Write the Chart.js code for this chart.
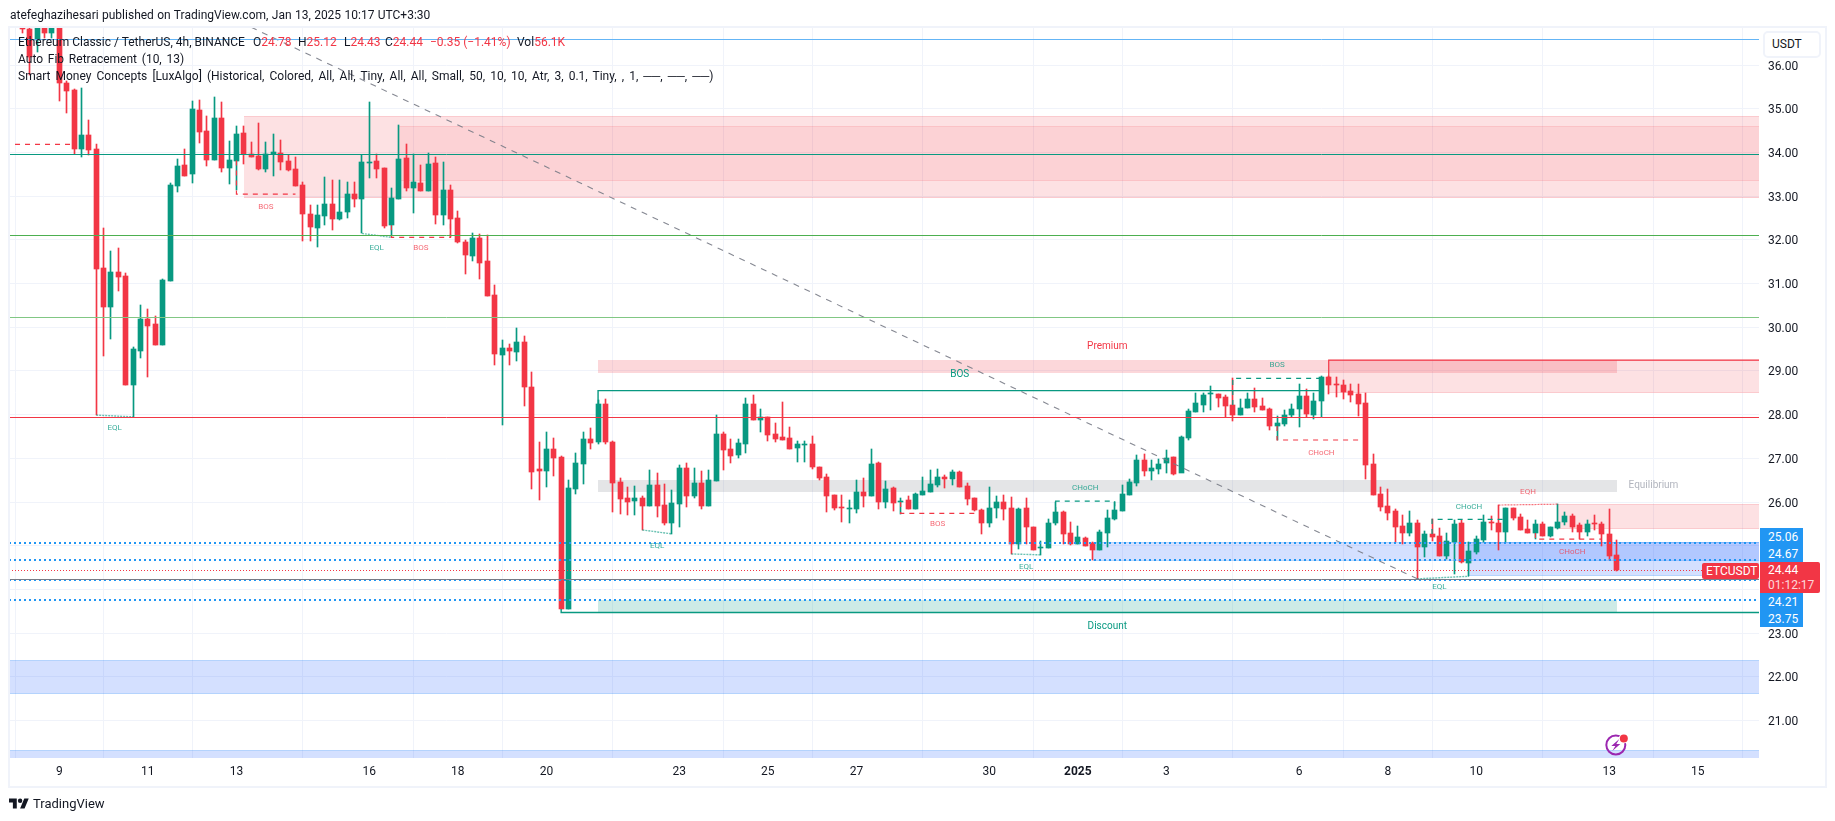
<!DOCTYPE html>
<html><head><meta charset="utf-8">
<script src="https://cdn.jsdelivr.net/npm/chart.js@4/dist/chart.umd.min.js"></script>
<style>
html,body{margin:0;padding:0;background:#fff;width:1835px;height:821px;overflow:hidden}
body{font-family:Roboto,"Noto Sans",sans-serif;color:#131722;position:relative}
canvas{position:absolute;left:0;top:0}
.t{position:absolute;white-space:pre;font-size:12px;line-height:16px}
.r{color:#f23645}
.frame{position:absolute;left:8px;top:26px;width:1815px;height:758px;border:2px solid #f0f3fa;pointer-events:none}
.usdt{position:absolute;left:1763px;top:31px;height:23px;border:2px solid #f0f3fa;border-radius:5px;background:#fff;font-size:12px;line-height:23px;padding-left:7px;width:47px}
.tag{position:absolute;color:#fff;font-size:12px;text-align:left;padding-left:8px;padding-top:1px;box-sizing:border-box}
</style></head><body>
<canvas id="c" width="1835" height="821"></canvas>
<div class="frame"></div>
<div class="t" style="left:10px;top:7px;word-spacing:.4px">atefeghazihesari published on TradingView.com, Jan 13, 2025 10:17 UTC+3:30</div>
<div class="t" style="left:18px;top:34px">Ethereum Classic / TetherUS, 4h, BINANCE</div>
<div class="t" style="left:253px;top:34px">O<span class="r">24.78</span></div>
<div class="t" style="left:298px;top:34px">H<span class="r">25.12</span></div>
<div class="t" style="left:344px;top:34px">L<span class="r">24.43</span></div>
<div class="t" style="left:385px;top:34px">C<span class="r">24.44</span></div>
<div class="t r" style="left:430px;top:34px">−0.35 (−1.41%)</div>
<div class="t" style="left:517px;top:34px">Vol<span class="r">56.1K</span></div>
<div class="t" style="left:18px;top:51px;word-spacing:1.8px">Auto Fib Retracement (10, 13)</div>
<div class="t" style="left:18px;top:68px;word-spacing:2.1px">Smart Money Concepts [LuxAlgo] (Historical, Colored, All, All, Tiny, All, All, Small, 50, 10, 10, Atr, 3, 0.1, Tiny, , 1, ──, ──, ──)</div>
<div class="usdt">USDT</div>
<div class="tag" style="left:1760px;top:528px;width:43px;height:34px;background:#2196f3;line-height:17px">25.06<br>24.67</div>
<div class="tag" style="left:1760px;top:593px;width:43px;height:34px;background:#2196f3;line-height:17px">24.21<br>23.75</div>
<div class="tag" style="left:1760px;top:562px;width:60px;height:31px;background:#f23645;line-height:15px;border-radius:0 2px 2px 0">24.44<br><span style="opacity:.8">01:12:17</span></div>
<div class="tag" style="left:1702px;top:563px;width:57px;height:16px;background:#f23645;line-height:16px;padding-left:4px;padding-top:0;border-radius:2px">ETCUSDT</div>
<svg style="position:absolute;left:9px;top:797px" width="20" height="13" viewBox="0 4 36 18"><path fill="#131722" d="M14 22H7V11H0V4h14v18zM28 22h-8l7.5-18h8L28 22z"/><circle fill="#131722" cx="20" cy="8" r="4"/></svg>
<div class="t" style="left:33px;top:796px;font-size:13px">TradingView</div>
<script>
// ---- x axis
const firstIndex = -5;
const xTickIndex = [0,12,24,42,54,66,84,96,108,126,138,150,168,180,192,210,222];
const xTickLabels = ['9','11','13','16','18','20','23','25','27','30','2025','3','6','8','10','13','15'];
const yTicks = [36,35,34,33,32,31,30,29,28,27,26,25,24,23,22,21];

// ---- candles
const opens = [37.0,36.82,36.59,36.85,36.75,36.95,35.59,35.43,34.08,34.40,34.08,31.36,30.47,31.27,31.17,28.69,29.46,30.19,30.07,29.60,
31.06,33.24,33.72,33.50,34.98,34.5,33.83,34.8,33.65,33.82,34.44,33.98,33.93,33.63,33.97,34.0,33.81,33.63,33.26,32.6,
32.28,32.55,32.82,32.48,32.63,33.05,32.94,33.77,33.8,33.65,32.34,32.94,33.87,33.2,33.3,33.12,33.77,32.57,33.15,32.5,
31.95,31.64,32.04,31.52,30.74,29.36,29.52,29.43,29.66,28.63,26.75,26.72,27.21,27.03,23.55,26.30,26.88,27.44,27.38,28.24,
27.38,26.46,26.09,26.03,26.09,25.91,26.39,25.93,25.51,25.96,26.78,26.14,26.43,25.91,26.48,27.56,27.21,27.08,27.33,28.24,
27.88,27.95,27.56,27.49,27.47,27.24,27.31,27.33,26.80,26.57,26.16,25.89,25.85,25.85,26.23,26.14,26.89,26.00,26.32,26.00,
26.05,25.84,26.16,26.23,26.39,26.57,26.53,26.69,26.37,26.09,25.82,25.52,25.86,26.00,25.86,25.04,25.86,25.43,24.95,24.95,
25.52,25.77,25.29,25.04,25.18,25.06,24.90,25.29,25.61,25.79,26.16,26.43,26.96,26.71,26.75,26.89,27.03,26.66,27.47,28.06,
28.22,28.47,28.47,28.40,28.22,27.99,28.15,28.36,28.20,28.13,27.74,27.79,27.99,28.13,28.43,27.99,28.31,28.86,28.70,28.68,
28.54,28.47,28.27,26.87,26.18,25.91,25.79,25.45,25.29,25.52,24.97,25.27,25.22,24.76,25.09,25.52,24.60,24.85,25.13,25.55,
25.51,25.31,25.87,25.66,25.38,25.29,25.50,25.22,25.40,25.54,25.68,25.47,25.31,25.52,25.50,25.27,24.78];
const highs = [37.2,37.0,37.0,37.0,37.1,37.0,35.65,35.45,35.47,34.75,34.2,32.27,31.75,31.81,31.24,29.56,30.51,30.42,30.26,31.10,
33.3,33.85,34.08,35.18,35.2,34.84,35.27,35.17,34.27,34.62,34.6,34.25,34.67,34.24,34.43,34.29,33.95,33.9,33.33,32.79,
32.79,33.44,33.37,33.37,33.32,33.32,33.95,35.16,33.98,33.65,33.18,34.63,34.2,33.96,33.72,34.0,33.9,33.78,33.27,32.66,
32.0,32.17,32.14,32.11,30.97,29.72,29.62,29.98,29.8,28.98,27.37,27.60,27.47,27.05,26.50,27.12,27.60,27.69,28.33,28.36,
27.40,26.55,26.34,26.36,26.14,26.73,26.66,26.41,26.27,26.85,26.89,26.78,26.71,26.73,27.99,27.60,27.44,27.44,28.38,28.45,
28.13,27.95,27.81,28.29,27.72,27.40,27.40,27.51,26.80,26.64,26.16,26.16,26.05,26.50,26.55,27.21,26.92,26.48,26.34,26.09,
26.14,26.20,26.58,26.73,26.76,26.62,26.73,26.71,26.43,26.09,25.84,26.34,26.14,26.16,26.11,25.86,26.09,25.43,25.11,25.61,
26.00,25.79,25.54,25.45,25.20,25.08,25.36,25.82,26.00,26.39,26.53,27.08,27.10,26.96,26.98,27.19,27.03,27.51,28.14,28.50,
28.50,28.66,28.47,28.45,28.83,28.36,28.50,28.61,28.38,28.15,27.97,28.11,28.24,28.70,28.59,28.50,28.89,28.89,28.87,28.79,
28.70,28.70,28.50,27.10,26.34,26.30,25.84,25.70,25.79,25.59,25.33,25.61,25.40,25.29,25.59,25.59,25.08,25.22,25.70,25.68,
25.93,25.87,25.87,25.73,25.59,25.59,25.54,25.43,25.95,25.78,25.73,25.52,25.59,25.70,25.54,25.84,25.12];
const lows = [36.75,35.78,36.31,36.62,36.62,35.19,34.91,33.97,33.91,33.95,27.99,29.35,29.74,30.84,28.69,27.95,29.30,28.87,29.60,29.60,
31.06,33.11,33.47,33.31,34.21,33.70,33.83,33.56,33.28,33.14,33.75,33.9,33.6,33.56,33.46,33.6,33.58,33.24,31.98,31.98,
31.85,32.34,32.23,32.45,32.5,32.75,32.15,33.41,33.41,32.27,32.08,32.94,33.13,32.61,33.12,33.12,32.37,32.34,32.06,31.94,
31.22,31.52,31.1,30.72,29.14,27.76,29.14,29.23,28.2,26.3,26.05,26.35,26.60,23.55,23.55,26.18,26.41,27.21,27.33,27.33,
25.77,25.73,25.70,25.70,25.36,25.91,25.66,25.47,25.27,25.43,25.89,26.09,25.84,25.91,26.48,26.73,26.89,27.01,27.12,27.88,
27.60,27.40,27.37,27.42,27.21,26.92,26.92,26.76,26.50,25.77,25.82,25.54,25.52,25.74,25.89,26.14,25.84,25.86,25.79,25.73,
25.84,25.84,26.16,26.23,26.34,26.32,26.39,26.35,25.93,25.79,25.27,25.43,25.63,25.59,24.81,24.92,25.04,24.90,24.79,24.95,
25.47,25.04,25.02,25.04,25.00,24.67,24.90,24.96,25.59,25.79,26.16,26.37,26.60,26.50,26.64,26.66,26.62,27.49,27.43,28.06,
28.07,28.11,28.18,27.94,27.85,27.99,28.15,28.05,28.11,27.65,27.42,27.74,27.94,27.72,27.94,27.91,27.94,28.47,28.40,28.36,
28.29,27.97,26.53,26.16,25.79,25.59,25.08,25.04,25.22,24.24,24.74,25.11,24.76,24.69,24.35,24.60,24.30,24.81,25.08,25.36,
24.90,25.09,25.59,25.36,25.29,25.15,25.22,25.19,25.38,25.47,25.31,25.15,25.22,25.36,24.99,24.67,24.43];
const closes = [36.82,36.20,36.85,36.75,36.95,35.59,35.42,34.08,34.40,34.05,31.34,30.47,31.27,31.16,28.69,29.50,30.19,30.04,29.60,31.08,
33.26,33.69,33.47,35.0,34.48,33.83,34.8,33.64,33.83,34.43,33.97,33.90,33.63,33.98,34.01,33.79,33.6,33.24,32.6,32.3,
32.57,32.82,32.48,32.65,33.05,32.94,33.78,33.79,33.62,32.32,32.95,33.85,33.18,33.33,33.12,33.75,32.57,33.15,32.48,31.96,
31.66,32.04,31.48,30.72,29.39,29.52,29.46,29.66,28.63,26.69,26.70,27.21,27.01,23.55,26.33,26.89,27.44,27.36,28.24,27.37,
26.44,26.07,26.00,26.09,25.91,26.39,25.91,25.51,25.98,26.78,26.14,26.43,25.91,26.50,27.56,27.19,27.05,27.35,28.24,27.88,
27.95,27.53,27.44,27.42,27.21,27.33,27.33,26.80,26.55,26.14,25.86,25.87,25.87,26.23,26.14,26.87,26.00,26.30,25.98,26.02,
25.84,26.18,26.25,26.41,26.57,26.53,26.69,26.35,26.07,25.82,25.52,25.86,26.00,25.84,25.04,25.84,25.43,24.90,24.96,25.52,
25.77,25.27,25.04,25.20,25.00,24.90,25.31,25.63,25.82,26.18,26.46,26.96,26.71,26.78,26.88,27.01,26.64,27.49,28.08,28.27,
28.45,28.48,28.38,28.20,27.99,28.15,28.36,28.18,28.11,27.74,27.81,27.99,28.13,28.43,28.01,28.31,28.86,28.68,28.69,28.52,
28.45,28.24,26.85,26.16,25.89,25.75,25.43,25.29,25.52,24.97,25.27,25.20,24.76,25.11,25.50,24.63,24.88,25.15,25.54,25.53,
25.31,25.87,25.63,25.36,25.29,25.50,25.22,25.43,25.54,25.68,25.43,25.31,25.50,25.50,25.27,24.76,24.44];

// ---- horizontal levels (prices)
const fibLevels = [36.60,33.96,32.11,30.23,27.94,24.23];
const fibColors = ['#64b5f6','#089981','#4caf50','#81c784','#f23645','#787b86'];
const hitLevels = [25.06,24.67,24.21,23.75];
const lastPrice = 24.44;

// ---- swing / structure lines, [x, price] pairs
const fibDiagonal = [[26,36.87],[184,24.24]];
const strongTeal = [[[73,28.24],[73,28.55],[171,28.55]], [[68,23.55],[68,23.47],[230.3,23.47]]];
const strongRed = [[[172,28.86],[172,29.25],[230.3,29.25]]];
const dashRed = [[[-6,34.19],[2,34.19]],[[24,33.82],[24,33.05],[32,33.05]],[[45,32.34],[45,32.06],[53,32.06],[53,32.48]],
 [[114,26.0],[114,25.74],[125,25.74]],[[165,27.74],[165,27.42],[176,27.42]],[[200,25.29],[200,25.15],[209,25.15]]];
const dashTeal = [[[135,25.77],[135,26.02],[143,26.02],[143,25.82]],[[159,28.22],[159,28.83],[171,28.83]],[[186,25.27],[186,25.60],[196,25.60]]];
const eqlLines = [[[5,27.99],[10,27.95]],[[41,32.15],[45,32.06]],[[79,25.36],[83,25.27]],[[129,24.81],[133,24.79]],[[184,24.24],[191,24.30]]];
const eqhLines = [[[195,25.93],[203,25.95]]];

// ---- zones [fromIndex, toIndex, highPrice, lowPrice]
const obOuterZones = [[25,230.3,34.83,32.95],[172,230.3,29.25,28.49],[203,230.3,25.95,25.39]];
const obInnerZones = [[46,230.3,34.61,33.36]];
const blueZones = [[140,230.3,25.08,24.66],[191,230.3,25.08,24.31],[-6.816,230.3,22.38,21.60],[-6.816,230.3,20.32,19.9]];
const premiumZone = [73,211,29.25,28.96];
const equilibriumZone = [73,211,26.50,26.23];
const discountZone = [73,211,23.75,23.47];

// ---- text labels [x, price, text]
const redSmall = [[28,32.76,'BOS'],[49,31.81,'BOS'],[119,25.49,'BOS'],[171,27.13,'CHoCH'],[199,26.24,'EQH'],[205,24.86,'CHoCH']];
const tealSmall = [[7.5,27.69,'EQL'],[43,31.81,'EQL'],[81,25.0,'EQL'],[131,24.52,'EQL'],[187,24.05,'EQL'],[139,26.31,'CHoCH'],[165,29.13,'BOS'],[191,25.88,'CHoCH']];
const bigLabels = [[142,29.57,'Premium','#f23645'],[142,23.16,'Discount','#089981'],[122,28.91,'BOS','#089981'],[216,26.37,'Equilibrium','#b2b5be']];

const UP='#089981', DOWN='#f23645';
const XMIN=-6.816, XMAX=230.3;
const idx = opens.map((_,k)=>firstIndex+k);
const colors = opens.map((o,k)=>closes[k]>=o?UP:DOWN);

const seg=(pts,color,w,dash,snap)=>({type:'line',data:pts.map(p=>({x:p[0],y:p[1]})),borderColor:color,borderWidth:w,borderDash:dash||[],
  pointRadius:0,tension:0,fill:false,order:0,borderCapStyle:'butt',snapY:snap||0});

const datasets=[
 {type:'bar',label:'wick',data:idx.map((x,k)=>({x,y:[lows[k],highs[k]]})),backgroundColor:colors,borderWidth:0,barThickness:1,grouped:false,order:3},
 {type:'bar',label:'body',data:idx.map((x,k)=>({x,y:[Math.min(opens[k],closes[k]),Math.max(opens[k],closes[k])]})),backgroundColor:colors,borderWidth:0,barThickness:5,grouped:false,order:2}
];
fibLevels.forEach((p,k)=>datasets.push(seg([[XMIN,p],[XMAX,p]],fibColors[k],1,null,1)));
hitLevels.forEach(p=>datasets.push(seg([[XMIN,p],[XMAX,p]],'#2196f3',2,[2,3],2)));
datasets.push(seg([[XMIN,lastPrice],[XMAX,lastPrice]],'#f23645',1,[1,2],1));
datasets.push(seg(fibDiagonal,'rgba(120,123,134,.9)',1.1,[6,6]));
strongTeal.forEach(s=>datasets.push(seg(s,'#089981',1.4)));
strongRed.forEach(s=>datasets.push(seg(s,'#f23645',1.2)));
dashRed.forEach(s=>datasets.push(seg(s,'#f23645',1.2,[5,5])));
dashTeal.forEach(s=>datasets.push(seg(s,'#089981',1.2,[5,5])));
eqlLines.forEach(s=>datasets.push(seg(s,'rgba(8,153,129,.6)',1.4,[2,1])));
eqhLines.forEach(s=>datasets.push(seg(s,'rgba(242,54,69,.7)',1.2,[2,1])));

const overlay={
 id:'overlay',
 beforeDatasetsDraw(ch){
  const {ctx,scales:{x,y},chartArea:a}=ch;
  ctx.save();
  ctx.beginPath();ctx.rect(a.left,a.top,a.width,a.height);ctx.clip();
  const box=(z,fill,stroke)=>{
   const l=Math.round(x.getPixelForValue(z[0])),r=Math.round(x.getPixelForValue(z[1]));
   const t=Math.round(y.getPixelForValue(z[2])),b=Math.round(y.getPixelForValue(z[3]));
   ctx.fillStyle=fill;ctx.fillRect(l,t,r-l,b-t);
   if(stroke){ctx.fillStyle=stroke;ctx.fillRect(l,t,r-l,1);ctx.fillRect(l,b-1,r-l,1);}
  };
  obOuterZones.forEach(z=>box(z,'rgba(242,54,69,.15)','rgba(242,54,69,.13)'));
  obInnerZones.forEach(z=>box(z,'rgba(242,54,69,.09)','rgba(242,54,69,.1)'));
  blueZones.forEach(z=>box(z,'rgba(41,98,255,.2)','rgba(33,150,243,.18)'));
  box(premiumZone,'rgba(242,54,69,.2)');
  box(equilibriumZone,'rgba(120,123,134,.2)');
  box(discountZone,'rgba(8,153,129,.2)');
  ctx.restore();
  // snap candles and level lines to whole pixels as the original does
  [0,1].forEach(d=>ch.getDatasetMeta(d).data.forEach(el=>{
    el.x=Math.floor(el.x)+0.5; el.y=Math.round(el.y); el.base=Math.round(el.base);
    if(Math.abs(el.base-el.y)<1) el.y=el.base-1;
  }));
  ch.data.datasets.forEach((ds,d)=>{
    if(!ds.snapY) return;
    ch.getDatasetMeta(d).data.forEach(pt=>{ pt.y = ds.snapY===1 ? Math.floor(pt.y)+0.5 : Math.round(pt.y); });
  });
 },
 afterDatasetsDraw(ch){
  const {ctx,scales:{x,y}}=ch;
  ctx.save();ctx.textAlign='center';ctx.textBaseline='middle';
  const put=(l,color,font)=>{ctx.fillStyle=color;ctx.font=font;ctx.fillText(l[2],x.getPixelForValue(l[0]),y.getPixelForValue(l[1]));};
  redSmall.forEach(l=>put(l,'rgba(242,54,69,.75)','8px Roboto'));
  tealSmall.forEach(l=>put(l,'rgba(8,153,129,.8)','8px Roboto'));
  bigLabels.forEach(l=>put(l,l[3],'10px Roboto'));
  // event marker at the last day
  const cx=x.getPixelForValue(210.9),cy=745;
  ctx.strokeStyle='#9c27b0';ctx.lineWidth=2;ctx.beginPath();ctx.arc(cx,cy,9.5,0,Math.PI*2);ctx.stroke();
  ctx.fillStyle='#9c27b0';ctx.beginPath();
  ctx.moveTo(cx+3.5,cy-6);ctx.lineTo(cx-4.5,cy+1);ctx.lineTo(cx-0.5,cy+1);ctx.lineTo(cx-3.5,cy+6);ctx.lineTo(cx+4.5,cy-1);ctx.lineTo(cx+0.5,cy-1);ctx.closePath();ctx.fill();
  ctx.fillStyle='#fff';ctx.beginPath();ctx.arc(cx+8,cy-6.5,5,0,Math.PI*2);ctx.fill();
  ctx.fillStyle='#f23645';ctx.beginPath();ctx.arc(cx+8,cy-6.5,4,0,Math.PI*2);ctx.fill();
  ctx.restore();
 }
};

new Chart(document.getElementById('c'),{
 data:{datasets},
 plugins:[overlay],
 options:{
  responsive:false,animation:false,events:[],
  layout:{padding:{left:9,top:27,right:10,bottom:34}},
  plugins:{legend:{display:false},tooltip:{enabled:false}},
  scales:{
   x:{type:'linear',position:'bottom',min:XMIN,max:XMAX,offset:false,
     afterBuildTicks(s){s.ticks=xTickIndex.map(value=>({value}));},
     afterFit(s){s.height=29;},
     grid:{color:'#f0f3fa',drawTicks:false},border:{display:false},
     ticks:{autoSkip:false,maxRotation:0,padding:7,color:'#131722',
       font:c=>({family:'Roboto',size:12,weight:c.tick&&c.tick.value===138?'700':'400'}),
       callback(v,i){return xTickLabels[i];}}},
   y:{type:'linear',position:'right',min:20.138,max:36.877,
     afterBuildTicks(s){s.ticks=yTicks.map(value=>({value}));},
     afterFit(s){
       s.width=66;
       const base=Object.getPrototypeOf(s).getLabelItems;
       s.getLabelItems=function(c){const it=base.call(this,c);it.forEach(i=>{if(!i._moved){i.textOffset+=1.5;i._moved=true;}});return it;};
     },
     grid:{color:'#f0f3fa',drawTicks:false},border:{display:false},
     ticks:{padding:9,color:'#131722',font:{family:'Roboto',size:12},callback(v){return v.toFixed(2);}}}
  }
 }
});
</script>
</body></html>
